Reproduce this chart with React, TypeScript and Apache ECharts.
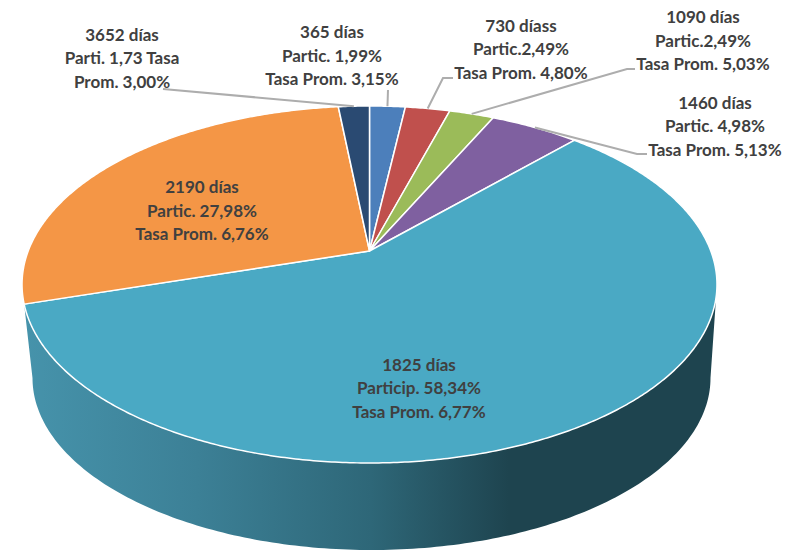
import React, { useEffect, useRef } from "react";
import * as echarts from "echarts";

const categories = ["365 días", "730 díass", "1090 días", "1460 días", "1825 días", "2190 días", "3652 días"];
const participation = [1.99, 2.49, 2.49, 4.98, 58.34, 27.98, 1.73];
const labelLines = [
  "365 días\nPartic. 1,99%\nTasa Prom. 3,15%",
  "730 díass\nPartic.2,49%\nTasa Prom. 4,80%",
  "1090 días\nPartic.2,49%\nTasa Prom. 5,03%",
  "1460 días\nPartic. 4,98%\nTasa Prom. 5,13%",
  "1825 días\nParticip. 58,34%\nTasa Prom. 6,77%",
  "2190 días\nPartic. 27,98%\nTasa Prom. 6,76%",
  "3652 días\nParti. 1,73 Tasa\nProm. 3,00%",
];
const colors = ["#4c7fbb", "#c0504d", "#9bbb59", "#7f60a0", "#4aa9c4", "#f49646", "#2a4a72"];

// Page layout: the text block centre, then the elbow(s) of the leader line towards the slice.
const labelCenters = [[332, 55], [521, 48.5], [703, 40], [715, 125.5], [419, 387.5], [202, 210], [122, 57.5]];
const leaderElbows: number[][][] = [
  [[388, 90]],
  [[453, 78], [443, 78]],
  [[635, 69], [627, 69]],
  [[647, 154], [637, 154]],
  [],
  [],
  [[163, 89]],
];

// Perspective disc: maps a point of the unit circle onto the tilted ellipse.
const APEX_X = 369.5;
const APEX_Y = 251;
const K = 0.1877;
const A = 341.3;
const B = 172.2;
const project = (deg: number) => {
  const t = (deg * Math.PI) / 180;
  const u = Math.sin(t);
  const v = Math.cos(t);
  const w = 1 + K * v;
  return [APEX_X + (A * u) / w, APEX_Y - (B * v) / w];
};
// Lower rim of the wall.
const BOTTOM = { cx: 371.5, cy: 378, rx: 339, ry: 172 };
const total = participation.reduce((a, b) => a + b, 0);
const startAngle = (i: number) => (participation.slice(0, i).reduce((a, b) => a + b, 0) / total) * 360;
const endAngle = (i: number) => startAngle(i) + (participation[i] / total) * 360;
const wallIndex = participation.indexOf(Math.max(...participation));

const arc = (a0: number, a1: number) => {
  const n = Math.max(2, Math.ceil(Math.abs(a1 - a0) / 0.5));
  const pts: number[][] = [];
  for (let i = 0; i <= n; i++) pts.push(project(a0 + ((a1 - a0) * i) / n));
  return pts;
};

const wallPoints = (i: number) => {
  const rightmost = (Math.acos(-K) * 180) / Math.PI;
  const top = arc(Math.max(rightmost, startAngle(i)), endAngle(i));
  const bottom: number[][] = [];
  for (let d = 180; d >= 0; d -= 1) {
    const t = (d * Math.PI) / 180;
    bottom.push([BOTTOM.cx + BOTTOM.rx * Math.cos(t), BOTTOM.cy + BOTTOM.ry * Math.sin(t)]);
  }
  return [...top, ...bottom];
};

export default function App() {
  const ref = useRef<HTMLDivElement>(null);
  useEffect(() => {
    const chart = echarts.init(ref.current!, null, { renderer: "svg" });
    const data = participation.map((v, i) => ({ name: categories[i], value: v }));
    chart.setOption({
      animation: false,
      backgroundColor: "#ffffff",
      series: [
        {
          type: "custom",
          coordinateSystem: "none",
          silent: true,
          z: 2,
          data,
          renderItem: (params: any) => {
            const i = params.dataIndex;
            const children: any[] = [];
            if (i === wallIndex) {
              children.push({
                type: "polygon",
                shape: { points: wallPoints(i) },
                style: {
                  fill: new echarts.graphic.LinearGradient(0, 0, 1, 0, [
                    { offset: 0, color: "#4693ab" },
                    { offset: 0.25, color: "#3c8096" },
                    { offset: 0.5, color: "#2e6778" },
                    { offset: 0.7, color: "#1e444f" },
                    { offset: 1, color: "#1e444f" },
                  ]),
                },
              });
            }
            children.push({
              type: "polygon",
              shape: { points: [[APEX_X, APEX_Y], ...arc(startAngle(i), endAngle(i))] },
              style: { fill: colors[i], stroke: "#ffffff", lineWidth: 1.5, lineJoin: "round" },
            });
            return { type: "group", children };
          },
        },
        {
          type: "custom",
          coordinateSystem: "none",
          silent: true,
          z: 3,
          data,
          renderItem: (params: any) => {
            const i = params.dataIndex;
            const children: any[] = [];
            if (leaderElbows[i].length) {
              const anchor = project((startAngle(i) + endAngle(i)) / 2);
              children.push({
                type: "polyline",
                shape: { points: [...leaderElbows[i], anchor] },
                style: { stroke: "#adadad", lineWidth: 2, fill: "none" },
              });
            }
            children.push({
              type: "text",
              style: {
                x: labelCenters[i][0],
                y: labelCenters[i][1],
                text: labelLines[i],
                fill: "#404040",
                font: 'bold 17px Lato',
                lineHeight: 23.5,
                align: "center",
                verticalAlign: "middle",
              },
            });
            return { type: "group", children };
          },
        },
      ],
    });
    return () => chart.dispose();
  }, []);
  return <div ref={ref} style={{ position: "fixed", left: 0, top: 0, width: 790, height: 550 }} />;
}
